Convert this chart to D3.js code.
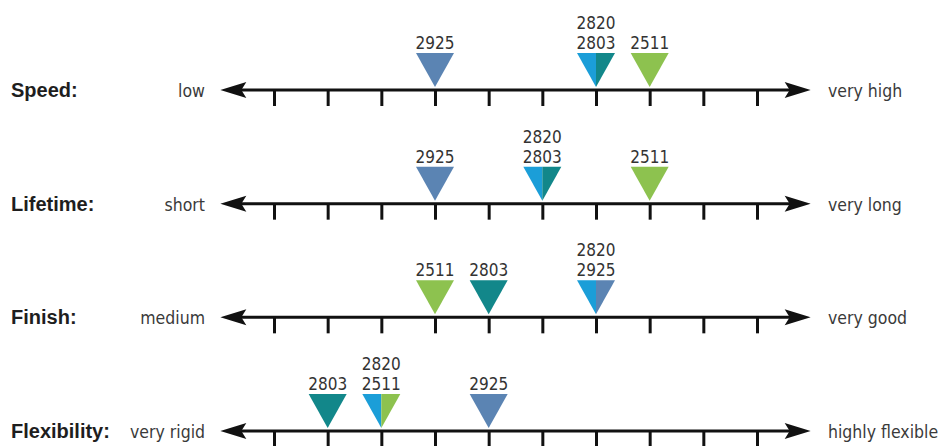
<!DOCTYPE html>
<html>
<head>
<meta charset="utf-8">
<script src="https://cdn.jsdelivr.net/npm/d3@7"></script>
<style>
  body { margin: 0; background: #fff; }
  .prop { font-family: "Liberation Sans", Arial, sans-serif; font-weight: bold; font-size: 20px; fill: #1e1e1e; }
  .end { font-family: "DejaVu Sans Condensed", "DejaVu Sans", sans-serif; font-stretch: condensed; font-size: 17.5px; fill: #3a3a3a; }
  .grade { font-family: "DejaVu Sans Condensed", "DejaVu Sans", sans-serif; font-stretch: condensed; font-size: 17px; fill: #333; }
</style>
</head>
<body>
<div id="chart"></div>
<script>
const properties = ["Speed:", "Lifetime:", "Finish:", "Flexibility:"];
const lowLabels = ["low", "short", "medium", "very rigid"];
const highLabels = ["very high", "very long", "very good", "highly flexible"];

// order inside a shared marker: first = left half / top label
const grades = ["2820", "2803", "2925", "2511"];
const gradeColors = ["#1b9ed8", "#12878a", "#5b84b3", "#8dc24f"];

// position on the scale (0 = first tick ... 9 = last tick), one per property
const ratings2820 = [6, 5, 6, 2];
const ratings2803 = [6, 5, 4, 1];
const ratings2925 = [3, 3, 6, 4];
const ratings2511 = [7, 7, 3, 2];
const ratings = [ratings2820, ratings2803, ratings2925, ratings2511];

const scaleSteps = d3.range(10);

const width = 938, height = 446;

const svg = d3.select('#chart').append('svg')
  .attr('width', width)
  .attr('height', height);

const x = d3.scaleLinear().domain([0, 9]).range([274, 757]);
const y = d3.scaleLinear().domain([0, 3]).range([90, 431]);
const color = d3.scaleOrdinal().domain(grades).range(gradeColors);

const triW = 38, triTop = 37, triTip = 3;

properties.forEach((p, row) => {
  const g = svg.append('g').attr('transform', 'translate(0,' + y(row) + ')');

  // ticks
  const axis = d3.axisBottom(x)
    .tickValues(scaleSteps)
    .tickSize(16)
    .tickFormat('');
  const ax = g.append('g').call(axis);
  ax.select('.domain').remove();
  ax.selectAll('.tick line').attr('stroke', '#111').attr('stroke-width', 3);

  // main line with arrows
  const x0 = x(-1), x1 = x(10);
  g.append('line')
    .attr('x1', x0 + 10).attr('x2', x1 - 10)
    .attr('y1', 0).attr('y2', 0)
    .attr('stroke', '#111').attr('stroke-width', 3);
  g.append('path')
    .attr('d', 'M' + x0 + ',0 L' + (x0 + 26) + ',-8 L' + (x0 + 21) + ',0 L' + (x0 + 26) + ',8 Z')
    .attr('fill', '#111');
  g.append('path')
    .attr('d', 'M' + x1 + ',0 L' + (x1 - 26) + ',-8 L' + (x1 - 21) + ',0 L' + (x1 - 26) + ',8 Z')
    .attr('fill', '#111');

  // texts
  g.append('text').attr('class', 'prop')
    .attr('x', 11).attr('y', 7).text(p);
  g.append('text').attr('class', 'end')
    .attr('x', 205).attr('y', 7).attr('text-anchor', 'end').text(lowLabels[row]);
  g.append('text').attr('class', 'end')
    .attr('x', 828).attr('y', 7).text(highLabels[row]);

  // markers: grades sharing a position get one split triangle
  const groups = d3.groups(grades, (d, i) => ratings[i][row]);
  groups.forEach(([pos, list]) => {
    const cx = x(pos);
    const n = list.length;
    list.forEach((grade, k) => {
      const a = cx - triW / 2 + k * triW / n;
      const b = cx - triW / 2 + (k + 1) * triW / n;
      g.append('path')
        .attr('d', 'M' + a + ',' + (-triTop) + ' L' + b + ',' + (-triTop) + ' L' + cx + ',' + (-triTip) + ' Z')
        .attr('fill', color(grade));
    });
    list.forEach((grade, k) => {
      g.append('text').attr('class', 'grade')
        .attr('x', cx).attr('y', -41 - (n - 1 - k) * 20)
        .attr('text-anchor', 'middle')
        .text(grade);
    });
  });
});
</script>
</body>
</html>
